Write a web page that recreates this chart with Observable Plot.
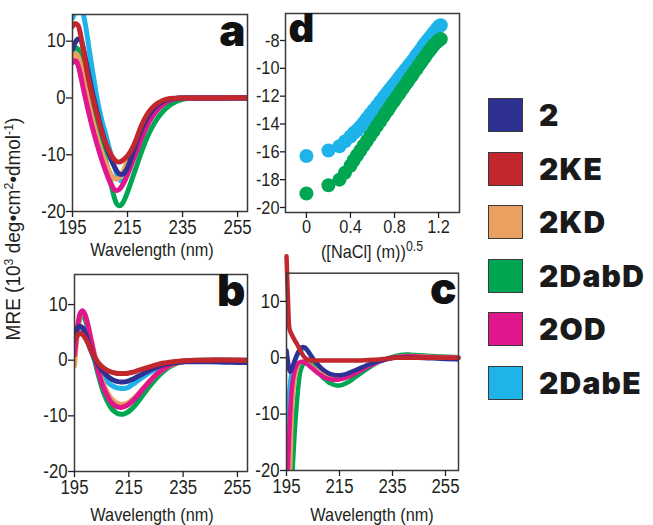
<!DOCTYPE html>
<html><head><meta charset="utf-8">
<script src="https://cdn.jsdelivr.net/npm/d3@7"></script>
<script src="https://cdn.jsdelivr.net/npm/@observablehq/plot@0.6"></script>
<style>
body{margin:0;background:#fff;}
#root{position:relative;width:653px;height:525px;overflow:hidden;color:#231f20;
  font-family:"Liberation Sans",Arial,sans-serif;}
.panel{position:absolute;}
.lab{position:absolute;white-space:nowrap;font-size:18.5px;line-height:1;transform:translate(-50%,-50%) scaleX(0.88);}
.lab sup{font-size:14px;vertical-align:7px;line-height:0;}
#mre{position:absolute;left:13px;top:229px;white-space:nowrap;font-size:20px;line-height:1;
  transform:translate(-50%,-50%) rotate(-90deg) scaleX(0.95);}
#mre sup{font-size:13px;vertical-align:7px;line-height:0;}
#legend{position:absolute;left:488px;top:97px;}
.item{position:absolute;left:0;display:flex;align-items:center;white-space:nowrap;}
.sw{width:35px;height:34px;border:1.5px solid #3a3a3a;box-sizing:border-box;}
.nm{margin-left:16px;font-family:Inter,"DejaVu Sans",sans-serif;font-weight:900;font-size:30px;color:#1a1a1a;letter-spacing:1.2px;}
</style></head>
<body><div id="root"></div>
<script>
// ---- series ----
const series = ["2","2KE","2KD","2DabD","2OD","2DabE"];
const colors = ["#2e3192","#c1272d","#e9a060","#00a651","#e0168c","#1eb4ea"];
const drawOrder = ["2DabE","2DabD","2KD","2OD","2","2KE"];

// ---- ticks ----
const wlTicks = [195,215,235,255];
const mreTicks = [10,0,-10,-20];
const naclTicks = [0,0.4,0.8,1.2];
const dTicks = [-8,-10,-12,-14,-16,-18,-20];

// ---- panel a (MRE vs wavelength) ----
const wlA = [195,196,197,198,199,200,201,202,203,204,205,206,207,208,209,210,211,212,213,214,215,216,217,218,220,222,224,226,228,230,232,234,236,240,245,250,255,260];
const a_2     = [8.6,9.8,10.4,10.2,8.6,6.3,3.9,1.5,-0.6,-2.6,-4.6,-6.4,-8.0,-9.5,-10.8,-11.9,-12.8,-13.4,-13.5,-13.1,-12.3,-11.0,-9.6,-8.2,-5.6,-3.6,-2.2,-1.2,-0.6,-0.25,-0.1,0,0,0,0,0,0,0];
const a_2KE   = [12.6,13.1,12.8,11.0,8.3,5.4,2.8,0.8,-1.2,-3.0,-4.9,-6.5,-7.9,-9.0,-10.0,-10.7,-11.2,-11.3,-11.1,-10.7,-10.2,-9.5,-8.6,-7.5,-4.9,-3.0,-1.7,-0.9,-0.4,-0.15,-0.05,0,0,0,0,0,0.05,0];
const a_2KD   = [7.0,7.8,7.4,5.8,3.5,1.1,-1.2,-3.3,-5.2,-7.0,-8.6,-10.0,-11.3,-12.5,-13.5,-14.1,-14.3,-14.0,-13.3,-12.3,-11.1,-9.9,-8.8,-7.7,-5.5,-3.6,-2.2,-1.2,-0.6,-0.25,-0.1,0,0,0,0,0,0,0];
const a_2DabD = [8.2,8.9,8.6,7.0,4.8,2.6,0.5,-1.7,-3.8,-5.6,-7.3,-9.0,-10.9,-13.0,-15.2,-17.2,-18.6,-19.0,-18.7,-17.8,-16.6,-15.2,-13.8,-12.4,-9.6,-7.1,-5.1,-3.5,-2.3,-1.4,-0.8,-0.4,-0.15,0,0,0,0,0];
const a_2OD   = [6.2,6.6,5.8,3.8,1.5,-0.7,-2.8,-4.8,-6.6,-8.3,-9.9,-11.4,-12.8,-14.1,-15.2,-16.0,-16.3,-16.1,-15.5,-14.6,-13.5,-12.3,-11.0,-9.8,-7.2,-5.0,-3.3,-2.0,-1.1,-0.5,-0.2,-0.05,0,0,0,0,0,0];
const a_2DabE = [14.0,15.2,15.8,15.6,14.6,12.0,8.8,5.6,2.6,-0.3,-2.6,-4.6,-6.3,-8.2,-10.0,-11.7,-13.2,-14.3,-14.7,-14.3,-13.3,-12.0,-10.6,-9.3,-6.6,-4.4,-2.8,-1.7,-0.9,-0.4,-0.15,-0.05,0,0,0,0,0,0.1];

// ---- panel b ----
const wlB = wlA;
const b_2     = [4.4,5.7,6.1,5.8,4.8,3.4,2.0,0.8,-0.2,-1.0,-1.7,-2.3,-2.8,-3.2,-3.5,-3.7,-3.85,-3.9,-3.9,-3.85,-3.7,-3.5,-3.3,-3.0,-2.5,-2.0,-1.5,-1.1,-0.8,-0.6,-0.45,-0.35,-0.3,-0.3,-0.3,-0.35,-0.4,-0.45];
const b_2KE   = [3.6,4.4,4.8,4.6,3.9,3.0,1.9,0.9,0.1,-0.6,-1.1,-1.5,-1.8,-2.0,-2.2,-2.3,-2.4,-2.4,-2.4,-2.4,-2.3,-2.2,-2.1,-1.9,-1.6,-1.3,-1.0,-0.7,-0.5,-0.35,-0.25,-0.15,-0.1,0,0,0.05,0,-0.1];
const b_2KD   = [-1.0,4.5,7.8,8.7,8.0,6.3,4.1,1.9,-0.2,-2.0,-3.5,-4.7,-5.7,-6.5,-7.1,-7.5,-7.8,-7.9,-7.9,-7.8,-7.6,-7.2,-6.8,-6.3,-5.2,-4.1,-3.1,-2.2,-1.5,-1.0,-0.6,-0.35,-0.2,-0.1,0,0,0,0];
const b_2DabD = [0.5,5.0,7.5,8.0,7.2,5.4,3.1,0.9,-1.2,-3.1,-4.8,-6.2,-7.3,-8.2,-8.9,-9.3,-9.6,-9.7,-9.7,-9.5,-9.2,-8.8,-8.3,-7.7,-6.4,-5.1,-3.9,-2.8,-1.9,-1.2,-0.7,-0.35,-0.15,0,0.05,0,0,0];
const b_2OD   = [1.0,5.5,8.3,8.9,8.0,6.1,3.8,1.5,-0.6,-2.4,-4.0,-5.3,-6.3,-7.2,-7.8,-8.2,-8.4,-8.5,-8.4,-8.2,-7.9,-7.5,-7.0,-6.5,-5.3,-4.2,-3.1,-2.2,-1.5,-0.9,-0.55,-0.3,-0.15,-0.05,0,0,0,0];
const b_2DabE = [3.0,4.6,5.4,5.3,4.4,3.1,1.7,0.5,-0.6,-1.6,-2.5,-3.2,-3.8,-4.3,-4.6,-4.85,-5.0,-5.1,-5.1,-5.0,-4.8,-4.5,-4.2,-3.8,-3.1,-2.4,-1.8,-1.3,-0.9,-0.6,-0.4,-0.25,-0.15,-0.1,-0.05,0,0,0];

// ---- panel c ----
const wlC = [195,195.5,196,196.5,197,198,199,200,201,202,203,204,205,206,207,208,209,210,211,212,213,214,215,216,217,218,220,222,224,226,228,230,232,234,236,238,240,242,245,250,255,260];
const c_2     = [1.3,-0.5,-2.0,-2.5,-2.0,-0.6,0.6,1.4,1.9,1.8,1.2,0.5,-0.2,-0.8,-1.3,-1.8,-2.2,-2.5,-2.8,-2.95,-3.05,-3.1,-3.1,-3.05,-2.95,-2.8,-2.4,-2.0,-1.6,-1.2,-0.85,-0.55,-0.3,-0.1,0,0.05,0.05,0.05,0,-0.1,-0.2,-0.3];
const c_2KE   = [18,11,5.5,4.6,4.1,3.2,2.4,1.5,0.6,0,-0.3,-0.4,-0.45,-0.5,-0.5,-0.5,-0.5,-0.5,-0.5,-0.5,-0.5,-0.5,-0.5,-0.5,-0.5,-0.5,-0.5,-0.5,-0.45,-0.4,-0.35,-0.3,-0.2,-0.1,0,0,0,0,0,0,0,0];
const c_2KD   = [-35,-30,-24,-18,-10,-4.2,-1.8,-0.9,-0.7,-0.8,-1.1,-1.4,-1.8,-2.1,-2.4,-2.7,-3.0,-3.2,-3.35,-3.45,-3.5,-3.5,-3.5,-3.45,-3.35,-3.2,-2.8,-2.35,-1.9,-1.4,-1.0,-0.6,-0.3,-0.1,0.1,0.25,0.3,0.3,0.25,0.15,0.1,0];
const c_2DabD = [-40,-35,-30,-26,-22.5,-14,-7.5,-3.0,-1.4,-0.9,-0.8,-1.0,-1.5,-2.0,-2.6,-3.1,-3.6,-4.0,-4.4,-4.6,-4.8,-4.9,-4.9,-4.8,-4.6,-4.4,-3.8,-3.1,-2.4,-1.8,-1.2,-0.7,-0.3,0,0.3,0.5,0.6,0.55,0.45,0.3,0.2,0.1];
const c_2OD   = [-28,-20,-14,-9,-5.5,-2.5,-1.2,-0.8,-0.7,-0.9,-1.2,-1.6,-2.0,-2.4,-2.8,-3.1,-3.4,-3.6,-3.75,-3.85,-3.9,-3.9,-3.85,-3.75,-3.6,-3.45,-3.0,-2.5,-2.0,-1.5,-1.05,-0.65,-0.35,-0.1,0.1,0.2,0.25,0.25,0.2,0.1,0.05,0];
const c_2DabE = [-14,-11,-6.5,-4.0,-2.3,-0.8,0.3,1.1,1.6,1.7,1.3,0.6,-0.1,-0.8,-1.4,-2.0,-2.5,-2.9,-3.2,-3.4,-3.6,-3.7,-3.7,-3.6,-3.5,-3.3,-2.9,-2.4,-1.9,-1.4,-1.0,-0.6,-0.3,-0.1,0.1,0.2,0.3,0.3,0.3,0.2,0.1,0];

// ---- panel d (MRE vs sqrt salt) ----
const nacl = [0,0.2,0.3,0.35,0.4,0.43,0.46,0.49,0.52,0.55,0.58,0.61,0.64,0.67,0.7,0.72,0.74,0.76,0.78,0.8,0.82,0.84,0.86,0.88,0.9,0.92,0.94,0.96,0.98,1.0,1.02,1.04,1.06,1.08,1.1,1.12,1.14,1.16,1.18,1.2,1.22];
const d_2DabE = [-16.3,-15.9,-15.6,-15.25,-14.9,-14.65,-14.45,-14.2,-13.9,-13.6,-13.3,-13.0,-12.7,-12.4,-12.1,-11.9,-11.7,-11.5,-11.3,-11.1,-10.9,-10.7,-10.5,-10.3,-10.1,-9.9,-9.7,-9.5,-9.3,-9.05,-8.85,-8.65,-8.4,-8.2,-8.0,-7.8,-7.6,-7.4,-7.2,-7.0,-6.9];
const d_2DabD = [-19.0,-18.4,-18.0,-17.5,-17.0,-16.6,-16.25,-15.9,-15.55,-15.2,-14.85,-14.5,-14.15,-13.8,-13.45,-13.2,-13.0,-12.75,-12.5,-12.3,-12.05,-11.85,-11.6,-11.4,-11.15,-10.95,-10.7,-10.5,-10.25,-10.05,-9.8,-9.6,-9.35,-9.15,-8.9,-8.7,-8.5,-8.3,-8.15,-8.0,-7.9];

// ---- build tables ----
function rows(wl, bySeries){
  const out = [];
  for (const s of drawOrder) bySeries[s].forEach((v,i)=>out.push({s, wl: wl[i], v}));
  return out;
}
const rowsA = rows(wlA, {"2":a_2,"2KE":a_2KE,"2KD":a_2KD,"2DabD":a_2DabD,"2OD":a_2OD,"2DabE":a_2DabE});
const rowsB = rows(wlB, {"2":b_2,"2KE":b_2KE,"2KD":b_2KD,"2DabD":b_2DabD,"2OD":b_2OD,"2DabE":b_2DabE});
const rowsC = rows(wlC, {"2":c_2,"2KE":c_2KE,"2KD":c_2KD,"2DabD":c_2DabD,"2OD":c_2OD,"2DabE":c_2DabE});
const rowsD = [
  ...nacl.map((x,i)=>({s:"2DabE", x, v:d_2DabE[i]})),
  ...nacl.map((x,i)=>({s:"2DabD", x, v:d_2DabD[i]}))
];

const sans = '"Liberation Sans",Arial,sans-serif';
const heavy = 'Inter,"DejaVu Sans",sans-serif';
const colorScale = {domain: series, range: colors};
const fmt = d => String(d);

function cdPanel({rowsX, xDomain, yDomain, width, height, ml, mr, mt, mb, letter, sw, unclipped}){
  const clipped = rowsX.filter(r => r.s !== unclipped);
  const free = rowsX.filter(r => r.s === unclipped);
  return Plot.plot({
    width, height, marginLeft: ml, marginRight: mr, marginTop: mt, marginBottom: mb,
    style: {background: "transparent", fontFamily: sans, fontSize: "19.5px", color: "#231f20", overflow: "visible"},
    x: {domain: xDomain}, y: {domain: yDomain}, color: colorScale,
    marks: [
      Plot.line(clipped, {x: "wl", y: "v", z: "s", stroke: "s", strokeWidth: sw, curve: "monotone-x", clip: true}),
      Plot.line(free, {x: "wl", y: "v", z: "s", stroke: "s", strokeWidth: sw, curve: "monotone-x"}),
      Plot.frame({stroke: "#3a3a3a", strokeWidth: 1.5}),
      Plot.axisX({ticks: wlTicks, tickSize: 6, tickPadding: 3, tickFormat: fmt, label: null, strokeWidth: 1.3}),
      Plot.axisY({ticks: mreTicks, tickSize: 6, tickPadding: 1, tickFormat: fmt, label: null, strokeWidth: 1.3}),
      Plot.text([letter], {text: d => d, frameAnchor: "top-right", textAnchor: "end", lineAnchor: "top",
        dx: -2, dy: 0, fontSize: 44, fontWeight: 900, fontFamily: heavy, fill: "#111"})
    ]
  });
}

const root = document.getElementById("root");
function place(node, left, top){ node.classList.add("panel"); node.style.left = left+"px"; node.style.top = top+"px"; root.appendChild(node); }
// condense tick labels (the reference uses a condensed face)
function condense(svg, k){
  svg.querySelectorAll('g[aria-label$="tick label"] text').forEach(t => {
    const w = t.getComputedTextLength();
    t.setAttribute("textLength", (w*k).toFixed(1));
    t.setAttribute("lengthAdjust", "spacingAndGlyphs");
  });
}

const pa = cdPanel({rowsX: rowsA, xDomain: [195, 258.6], yDomain: [-20, 14.7], width: 260, height: 262,
  ml: 72, mr: 13, mt: 14, mb: 51, letter: "a", sw: 5, unclipped: null});
place(pa, 0, 0);
const pb = cdPanel({rowsX: rowsB, xDomain: [195, 258.7], yDomain: [-20, 15.4], width: 260, height: 263,
  ml: 74, mr: 13, mt: 12, mb: 54, letter: "b", sw: 5, unclipped: null});
place(pb, 0, 262);
const pc = cdPanel({rowsX: rowsC, xDomain: [195, 259.9], yDomain: [-20, 15], width: 230, height: 263,
  ml: 36, mr: 22, mt: 10.7, mb: 55, letter: "c", sw: 4.5, unclipped: "2KE"});
place(pc, 250, 262);

const plotD = Plot.plot({
  width: 230, height: 262, marginLeft: 35, marginRight: 21, marginTop: 13, marginBottom: 50,
  style: {background: "transparent", fontFamily: sans, fontSize: "19px", color: "#231f20", overflow: "visible"},
  x: {domain: [-0.19, 1.39]}, y: {domain: [-20.36, -6.06]}, color: colorScale,
  marks: [
    Plot.dot(rowsD, {x: "x", y: "v", fill: "s", r: 7, stroke: null}),
    Plot.frame({stroke: "#3a3a3a", strokeWidth: 1.5}),
    Plot.axisX({ticks: naclTicks, tickSize: 6, tickPadding: 1, tickFormat: fmt, label: null, strokeWidth: 1.3}),
    Plot.axisY({ticks: dTicks, tickSize: 5, tickPadding: 1, tickFormat: fmt, label: null, strokeWidth: 1.3}),
    Plot.text(["d"], {text: d => d, frameAnchor: "top-left", textAnchor: "start", lineAnchor: "top",
      dx: 3, dy: 0, fontSize: 40, fontWeight: 900, fontFamily: heavy, fill: "#111"})
  ]
});
place(plotD, 250, 0);
[pa, pb, pc, plotD].forEach(s => condense(s, 0.86));

// ---- titles ----
function lab(html, x, y){ const d = document.createElement("div"); d.className = "lab"; d.innerHTML = html; d.style.left = x+"px"; d.style.top = y+"px"; root.appendChild(d); return d; }
lab("Wavelength (nm)", 152, 250);
lab("Wavelength (nm)", 152, 515);
lab("Wavelength (nm)", 372, 515);
lab("([NaCl] (m))<sup>0.5</sup>", 372, 252);
const mre = document.createElement("div"); mre.id = "mre";
mre.innerHTML = "MRE (10<sup>3</sup> deg•cm<sup>2</sup>•dmol<sup>-1</sup>)";
root.appendChild(mre);

// ---- legend ----
const lg = document.createElement("div"); lg.id = "legend"; root.appendChild(lg);
series.forEach((s,i)=>{
  const it = document.createElement("div"); it.className = "item"; it.style.top = (i*53.5)+"px";
  const sw = document.createElement("div"); sw.className = "sw"; sw.style.background = colors[i];
  const nm = document.createElement("div"); nm.className = "nm"; nm.textContent = s;
  it.appendChild(sw); it.appendChild(nm); lg.appendChild(it);
});
</script></body></html>
